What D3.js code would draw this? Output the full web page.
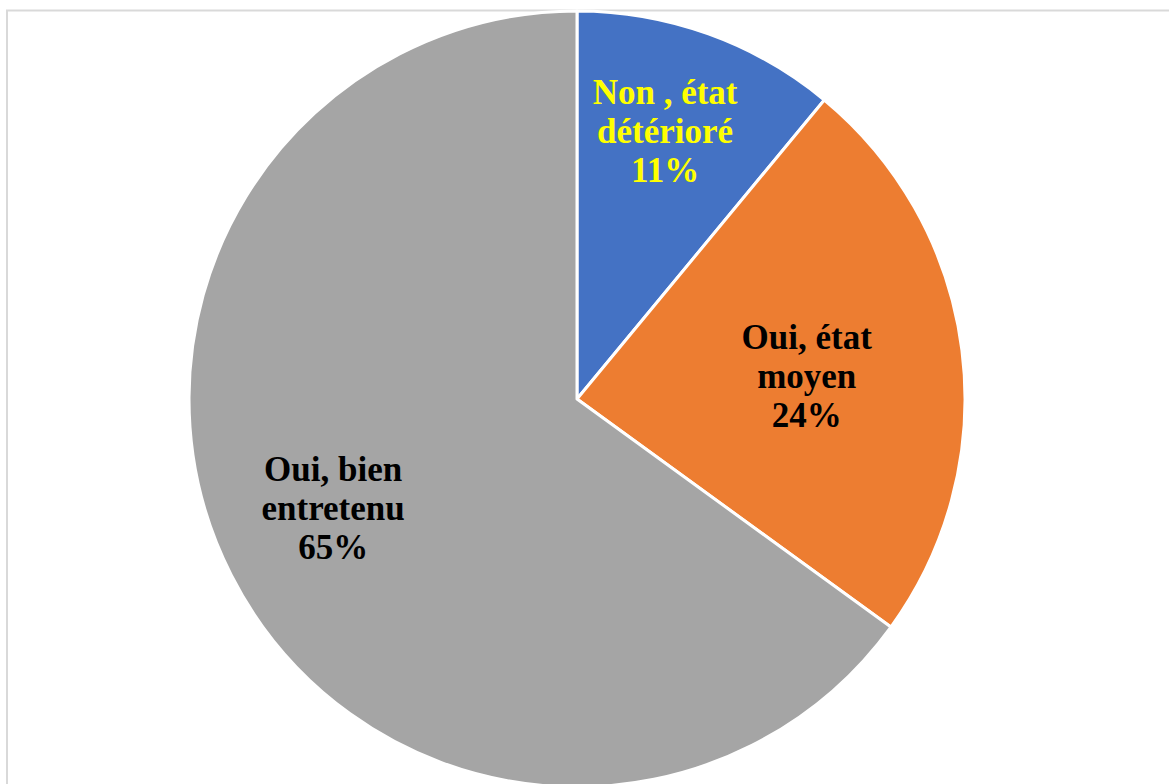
<!DOCTYPE html>
<html>
<head>
<meta charset="utf-8">
<script src="https://cdn.jsdelivr.net/npm/d3@7"></script>
<style>
  html, body { margin: 0; padding: 0; background: #ffffff; }
  svg { display: block; }
</style>
</head>
<body>
<svg id="chart" width="1169" height="784"></svg>
<script>
// Answers and their shares (%), in drawing order clockwise from 12 o'clock
const categories = ["Non , état détérioré", "Oui, état moyen", "Oui, bien entretenu"];
const labelLines = [["Non , état", "détérioré"], ["Oui, état", "moyen"], ["Oui, bien", "entretenu"]];
const values = [11, 24, 65];
const colors = ["#4472C4", "#ED7D31", "#A5A5A5"];
const labelColors = ["#FFFF00", "#000000", "#000000"];

const svg = d3.select("#chart");
const W = 1169, H = 784;
const cx = 577, cy = 399, R = 388;

// chart area frame
svg.append("rect")
  .attr("x", 7).attr("y", 10.5)
  .attr("width", W + 20).attr("height", H + 20)
  .attr("fill", "#ffffff")
  .attr("stroke", "#d9d9d9")
  .attr("stroke-width", 2);

const pie = d3.pie().sort(null).value(d => d)(values);
const arc = d3.arc().innerRadius(0).outerRadius(R);

const g = svg.append("g").attr("transform", `translate(${cx},${cy})`);

g.selectAll("path.slice")
  .data(pie)
  .join("path")
  .attr("class", "slice")
  .attr("d", arc)
  .attr("fill", (d, i) => colors[i])
  .attr("stroke", "#ffffff")
  .attr("stroke-width", 3)
  .attr("stroke-linejoin", "round");

// label placement per slice: distance from centre (fraction of radius)
// and a small angular nudge (degrees) off the slice bisector
const labelRadius = [0.727, 0.595, 0.688];
const labelNudge = [-1.6, 1.5, 3.0];
const lineH = 39;

pie.forEach((d, i) => {
  const r = R * labelRadius[i];
  const a = (d.startAngle + d.endAngle) / 2 + labelNudge[i] * Math.PI / 180;
  const x = r * Math.sin(a), y = -r * Math.cos(a);
  const lines = [...labelLines[i], d3.format(".0f")(values[i]) + "%"];
  const t = g.append("text")
    .attr("x", x).attr("y", y)
    .attr("text-anchor", "middle")
    .attr("font-family", "'Liberation Serif', 'Times New Roman', serif")
    .attr("font-weight", "bold")
    .attr("font-size", 35)
    .attr("fill", labelColors[i]);
  lines.forEach((s, k) => {
    t.append("tspan")
      .attr("x", x)
      .attr("y", y + (k - 1) * lineH + 12)
      .text(s);
  });
});
</script>
</body>
</html>
